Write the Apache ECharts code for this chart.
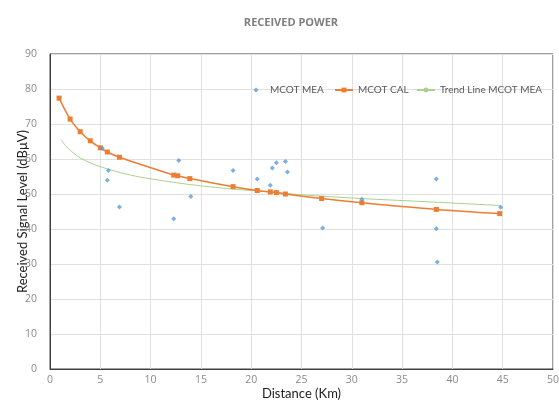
<!DOCTYPE html>
<html>
<head>
<meta charset="utf-8">
<script src="https://cdn.jsdelivr.net/npm/echarts@6/dist/echarts.min.js"></script>
<style>
  html, body { margin: 0; padding: 0; background: #fff; }
  #chart { width: 559px; height: 403px; }
</style>
</head>
<body>
<div id="chart"></div>
<script>
// measured points (distance km, level dBuV)
var mea_x = [5.2, 5.8, 5.7, 6.9, 12.3, 12.8, 14.0, 18.2, 20.6, 21.9, 22.1, 22.5, 23.4, 23.6, 27.1, 31.0, 38.4, 38.4, 38.5, 44.8];
var mea_y = [63.1, 56.7, 53.9, 46.3, 42.9, 59.6, 49.3, 56.7, 54.3, 52.5, 57.4, 58.9, 59.3, 56.3, 40.3, 48.5, 54.3, 40.1, 30.6, 46.2];

// calculated
var cal_x = [0.9, 2.0, 3.0, 4.0, 5.0, 5.7, 6.9, 12.3, 12.7, 13.9, 18.2, 20.6, 21.9, 22.5, 23.4, 27.0, 31.0, 38.4, 44.7];
var cal_y = [77.4, 71.4, 67.8, 65.2, 63.2, 62.0, 60.5, 55.4, 55.2, 54.4, 52.1, 51.0, 50.6, 50.4, 50.0, 48.7, 47.5, 45.6, 44.4];

// trend line
var trend_x = [1.1, 1.6, 2.3, 3.0, 4.0, 5.0, 7.0, 9.0, 10.3, 13.9, 18.2, 22.2, 24.9, 31.0, 38.1, 44.8];
var trend_y = [65.5, 63.6, 61.8, 60.3, 58.9, 57.8, 56.1, 54.8, 54.2, 52.7, 51.4, 50.5, 49.8, 48.7, 47.7, 46.7];

var series_names = ['MCOT MEA', 'MCOT CAL', 'Trend Line MCOT MEA'];

var myChart = echarts.init(document.getElementById("chart"));

function pairs(xs, ys){
	var out = [];
	for (var i = 0; i < xs.length; i++){
		out.push([xs[i], ys[i]]);
	}
	return out;
}

// small diamond inside an 18x6 box so the legend doesn't stretch it
var diamondIcon = 'path://M0,0 L0.01,0 L0,0.01 Z M18,6 L17.99,6 L18,5.99 Z M9,0.4 L11.6,3 L9,5.6 L6.4,3 Z';

// one legend per item so each can sit where the original has it
function legendAt(left, name, icon){
	var item = { name: name };
	if (icon) item.icon = icon;
	return {
		left: left,
		top: 85,
		padding: 0,
		itemWidth: 18,
		itemHeight: 6,
		textStyle: { fontSize: 10, color: '#595959', fontFamily: 'Lato' },
		data: [item]
	};
}

var option = {
	animation: false,
	backgroundColor: '#fff',
	title: {
		text: 'RECEIVED POWER',
		left: 286,
		textAlign: 'center',
		top: 12,
		textStyle: { fontSize: 11, fontWeight: 'bold', color: '#7f7f7f', fontFamily: 'Open Sans' }
	},
	legend: [
		legendAt(247, series_names[0], diamondIcon),
		legendAt(334, series_names[1]),
		legendAt(416, series_names[2])
	],
	grid: {
		left: 50, right: 6, top: 54, bottom: 34,
		outerBoundsMode: 'none',
		show: true,
		borderColor: '#404040',
		borderWidth: 1
	},
	xAxis: {
		type: 'value',
		min: 0, max: 50, interval: 5,
		name: 'Distance (Km)',
		nameLocation: 'middle',
		nameGap: 18,
		nameMoveOverlap: false,
		nameTextStyle: { fontSize: 13, color: '#222', fontFamily: 'Lato' },
		axisLine: { show: true, lineStyle: { color: '#404040' } },
		axisTick: { show: false },
		axisLabel: { fontSize: 10.5, color: '#8a8a8a', margin: 6, fontFamily: 'Open Sans' },
		splitLine: { show: true, lineStyle: { color: '#e0e0e0' } }
	},
	yAxis: {
		type: 'value',
		min: 0, max: 90, interval: 10,
		name: 'Received Signal Level (dB\u03bcV)',
		nameLocation: 'middle',
		nameGap: 21,
		nameMoveOverlap: false,
		nameTextStyle: { fontSize: 13, color: '#222', fontFamily: 'Lato' },
		axisLine: { show: true, lineStyle: { color: '#404040' } },
		axisTick: { show: false },
		axisLabel: { fontSize: 10.5, color: '#8a8a8a', margin: 13, fontFamily: 'Open Sans' },
		splitLine: { show: true, lineStyle: { color: '#e0e0e0' } }
	},
	series: [
		{
			name: series_names[0],
			type: 'scatter',
			symbol: 'diamond',
			symbolSize: 5,
			itemStyle: { color: '#5b9bd5' },
			data: pairs(mea_x, mea_y),
			z: 4
		},
		{
			name: series_names[1],
			type: 'line',
			smooth: 0.3,
			symbol: 'rect',
			symbolSize: 5,
			itemStyle: { color: '#ed7d31' },
			lineStyle: { color: '#ed7d31', width: 1.5 },
			data: pairs(cal_x, cal_y),
			z: 3
		},
		{
			name: series_names[2],
			type: 'line',
			smooth: 0.3,
			symbol: 'none',
			itemStyle: { color: '#a9d18e' },
			lineStyle: { color: '#a9d18e', width: 1 },
			data: pairs(trend_x, trend_y),
			z: 2
		}
	]
};

myChart.setOption(option);
</script>
</body>
</html>
